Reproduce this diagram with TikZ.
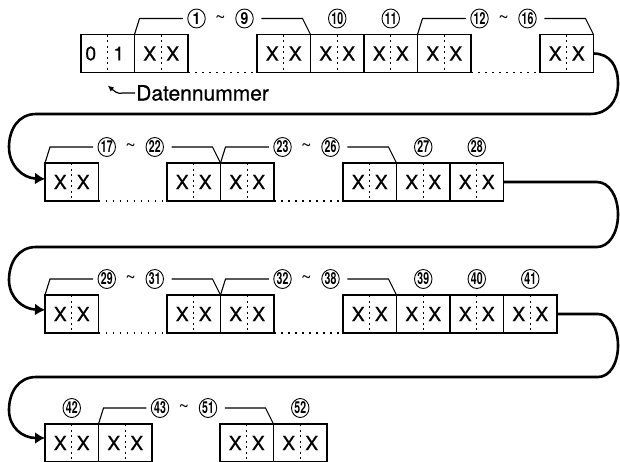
\documentclass[tikz,border=0pt]{standalone}
\usepackage{fontspec}
\usepackage{graphicx}
\setmainfont{TeX Gyre Heros}
\newfontfamily\heavyfont[FakeBold=0.5]{TeX Gyre Heros}
\usetikzlibrary{arrows.meta,calc,shapes.geometric}
\tikzset{
  cellbox/.style={draw,line width=1.2pt,minimum width=53.5pt,minimum height=38pt,inner sep=0pt,outer sep=0pt},
  celltxt/.style={inner sep=0pt,font=\heavyfont\fontsize{19.5}{19.5}\selectfont},
  divider/.style={line width=1pt,dash pattern=on 2pt off 3.5pt},
  gapdots/.style={line width=1.4pt,dash pattern=on 1.6pt off 5.4pt},
  cnum/.style={ellipse,draw,line width=0.9pt,inner sep=0pt,outer sep=0pt,minimum width=17.5pt,minimum height=19pt,font=\fontsize{16.5}{16.5}\selectfont\bfseries},
  tld/.style={inner sep=0pt,font=\fontsize{18}{18}\selectfont},
  brk/.style={line width=1.1pt},
  conn/.style={line width=2.6pt},
  connarrow/.style={conn,-{Latex[length=10pt,width=12pt]}},
}
\newcommand\cn[1]{\makebox[0pt]{\scalebox{0.64}[1]{#1}}}
\newcommand\cs[1]{\makebox[0pt]{\scalebox{0.85}[1]{#1}}}
\newcommand\mycell[5]{%
  \node[cellbox] (#1) at (#2+26.75,#3) {};
  \node[celltxt] (#1l) at ($(#1.center)+(-11.5,0)$) {#4};
  \node[celltxt] (#1r) at ($(#1.center)+(11.5,0)$) {#5};
  \draw[divider] (#1.north) -- (#1.south);
}
\newcommand\mybrk[5]{%
  \coordinate (#5m) at ($(#1.north west)!0.5!(#2.north east)$);
  \coordinate (#5c) at ($(#5m)+(0,-16)$);
  \node[cnum] (#5a) at ($(#5c)+(-26,0)$) {#3};
  \node[tld] (#5t) at ($(#5c)+(-2,1)$) {\textasciitilde};
  \node[cnum] (#5b) at ($(#5c)+(22,0)$) {#4};
  \draw[brk] (#1.north west) -- ++(5,-16) -- ([xshift=-5pt]#5a.west);
  \draw[brk] ([xshift=8pt]#5b.east) -- ($(#2.north east)+(-8,-16)$) -- (#2.north east);
}
\newcommand\mysingle[3]{%
  \node[cnum] (#3) at ($(#1.north)+(0,-16)$) {#2};
}
\begin{document}
\begin{tikzpicture}[x=1pt,y=-1pt]
\useasboundingbox (0,0) rectangle (620,461);
\fill[white] (0,0) rectangle (620,461);
% row 1
\node[cellbox] (r1b1) at (107.75,53.5) {};
\node[celltxt] (r1b1l) at ($(r1b1.center)+(-17,0)$) {0};
\node[celltxt] (r1b1r) at ($(r1b1.center)+(11,0)$) {1};
\draw[divider] (r1b1.north) -- (r1b1.south);
\mycell{r1b2}{134.5}{53.5}{X}{X}
\mycell{r1b3}{257}{53.5}{X}{X}
\mycell{r1b4}{310.5}{53.5}{X}{X}
\mycell{r1b5}{364}{53.5}{X}{X}
\mycell{r1b6}{417.5}{53.5}{X}{X}
\mycell{r1b7}{540}{53.5}{X}{X}
\draw[gapdots] (r1b2.south east) -- (r1b3.south west);
\draw[gapdots] (r1b6.south east) -- (r1b7.south west);
\mybrk{r1b2}{r1b3}{\cs{1}}{\cs{9}}{g1}
\mysingle{r1b4}{\cn{10}}{s10}
\mysingle{r1b5}{\cn{11}}{s11}
\mybrk{r1b6}{r1b7}{\cn{12}}{\cn{16}}{g12}
% Datennummer
\node[anchor=west,inner sep=0pt,font=\heavyfont\fontsize{21}{21}\selectfont] (dn) at (136,93) {Datennummer};
\coordinate (dntip) at ($(r1b1.south)+(0,13)$);
\draw[line width=1.2pt,-{Latex[length=6pt,width=5.5pt]}] ([xshift=-1pt]dn.west) -- ++(-12,0) .. controls (118,95) and (113,90) .. (dntip);
% row 2
\mycell{r2b1}{45}{182}{X}{X}
\mycell{r2b2}{167}{182}{X}{X}
\mycell{r2b3}{220.5}{182}{X}{X}
\mycell{r2b4}{343}{182}{X}{X}
\mycell{r2b5}{396.5}{182}{X}{X}
\mycell{r2b6}{450}{182}{X}{X}
\draw[gapdots] (r2b1.south east) -- (r2b2.south west);
\draw[gapdots] (r2b3.south east) -- (r2b4.south west);
\mybrk{r2b1}{r2b2}{\cn{17}}{\cn{22}}{g17}
\mybrk{r2b3}{r2b4}{\cn{23}}{\cn{26}}{g23}
\mysingle{r2b5}{\cn{27}}{s27}
\mysingle{r2b6}{\cn{28}}{s28}
% row 3
\mycell{r3b1}{45}{314}{X}{X}
\mycell{r3b2}{167}{314}{X}{X}
\mycell{r3b3}{220.5}{314}{X}{X}
\mycell{r3b4}{343}{314}{X}{X}
\mycell{r3b5}{396.5}{314}{X}{X}
\mycell{r3b6}{450}{314}{X}{X}
\mycell{r3b7}{503.5}{314}{X}{X}
\draw[gapdots] (r3b1.south east) -- (r3b2.south west);
\draw[gapdots] (r3b3.south east) -- (r3b4.south west);
\mybrk{r3b1}{r3b2}{\cn{29}}{\cn{31}}{g29}
\mybrk{r3b3}{r3b4}{\cn{32}}{\cn{38}}{g32}
\mysingle{r3b5}{\cn{39}}{s39}
\mysingle{r3b6}{\cn{40}}{s40}
\mysingle{r3b7}{\cn{41}}{s41}
% row 4
\mycell{r4b1}{45}{443}{X}{X}
\mycell{r4b2}{98.5}{443}{X}{X}
\mycell{r4b3}{220}{443}{X}{X}
\mycell{r4b4}{273.5}{443}{X}{X}
\mysingle{r4b1}{\cn{42}}{s42}
\mybrk{r4b2}{r4b3}{\cn{43}}{\cn{51}}{g43}
\mysingle{r4b4}{\cn{52}}{s52}
% connectors
\draw[connarrow] (r1b7.east) .. controls (610,53.5) and (618,66) .. (618,83.75) .. controls (618,101) and (608,114) .. (590,114) -- (36,114) .. controls (18,114) and (9,130) .. (9,147) .. controls (9,165) and (22,178) .. ([yshift=3pt]r2b1.west);
\draw[connarrow] (r2b6.east) -- (597,182) .. controls (609,182) and (618,196) .. (618,214.5) .. controls (618,233) and (609,247) .. (597,247) -- (36,247) .. controls (18,247) and (9,263) .. (9,280) .. controls (9,297) and (22,309) .. ([yshift=4pt]r3b1.west);
\draw[connarrow] (r3b7.east) -- (598,314) .. controls (610,314) and (618,328) .. (618,345.5) .. controls (618,363) and (610,377) .. (598,377) -- (36,377) .. controls (18,377) and (9,393) .. (9,410) .. controls (9,427) and (22,438) .. ([yshift=5pt]r4b1.west);
\end{tikzpicture}
\end{document}
